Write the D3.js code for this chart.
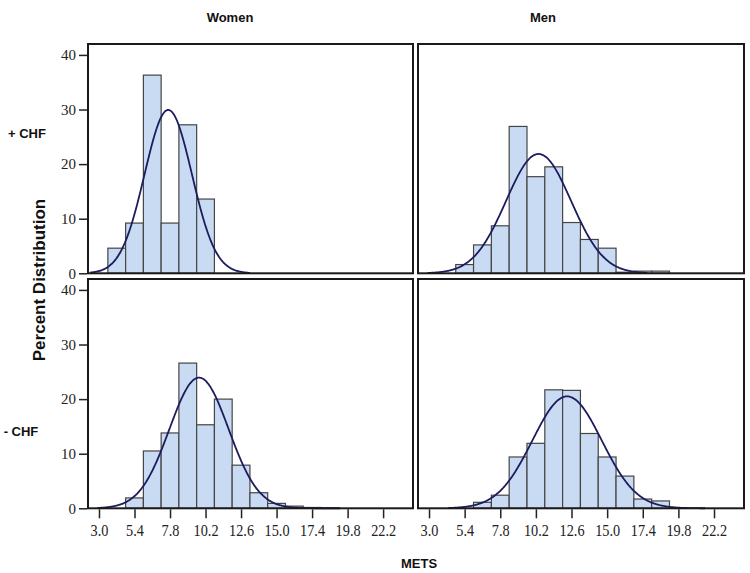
<!DOCTYPE html>
<html>
<head>
<meta charset="utf-8">
<script src="https://cdn.jsdelivr.net/npm/d3@7"></script>
<style>
  html, body { margin: 0; padding: 0; background: #fff; }
  svg { display: block; }
</style>
</head>
<body>
<svg id="chart" width="750" height="573"></svg>
<script>
// ---------- DATA ----------
const binStarts = [3.6, 4.8, 6.0, 7.2, 8.4, 9.6, 10.8, 12.0, 13.2, 14.4, 15.6, 16.8, 18.0];
const binWidth = 1.2;
const womenCHF   = [4.6, 9.2, 36.3, 9.2, 27.2, 13.6, 0, 0, 0, 0, 0, 0, 0];
const menCHF     = [0, 1.6, 5.2, 8.7, 26.9, 17.7, 19.5, 9.3, 6.2, 4.6, 0.2, 0.4, 0.4];
const womenNoCHF = [0, 1.9, 10.5, 13.8, 26.6, 15.3, 20.0, 7.9, 2.85, 0.9, 0.4, 0.15, 0.1];
const menNoCHF   = [0, 0, 1.1, 2.4, 9.4, 11.9, 21.7, 21.6, 13.7, 9.4, 5.9, 1.7, 1.35];
// fitted normal curves: [mean, sd, drawn from, drawn to]
const fitWomenCHF   = [7.68, 1.60, 2.4, 13.2];
const fitMenCHF     = [10.38, 2.19, 2.9, 17.7];
const fitWomenNoCHF = [9.76, 2.00, 2.9, 19.3];
const fitMenNoCHF   = [12.3, 2.335, 4.3, 21.6];
const xTicks = [3.0, 5.4, 7.8, 10.2, 12.6, 15.0, 17.4, 19.8, 22.2];
const yTicks = [0, 10, 20, 30, 40];
const colLabels = ["Women", "Men"];
const rowLabels = ["+ CHF", "- CHF"];
const xTitle = "METS";
const yTitle = "Percent Distribution";

// ---------- LAYOUT ----------
const svg = d3.select("#chart");
const cols = [{x0: 88, x1: 413, lx: 230}, {x0: 418, x1: 744, lx: 543}];
const rows = [{y0: 44, y1: 273.3, ly: 133}, {y0: 279, y1: 508.3, ly: 431}];
const panels = [
  {r: 0, c: 0, vals: womenCHF, fit: fitWomenCHF},
  {r: 0, c: 1, vals: menCHF, fit: fitMenCHF},
  {r: 1, c: 0, vals: womenNoCHF, fit: fitWomenNoCHF},
  {r: 1, c: 1, vals: menNoCHF, fit: fitMenNoCHF}
];
const xDomain = [2.257, 24.22];
const yDomain = [0, 42];

const barFill = "#c9dbf3", barStroke = "#454545", curveColor = "#1c1c5e";

panels.forEach(p => {
  const col = cols[p.c], row = rows[p.r];
  const x = d3.scaleLinear().domain(xDomain).range([col.x0, col.x1]);
  const y = d3.scaleLinear().domain(yDomain).range([row.y1, row.y0]);
  const g = svg.append("g");

  const bins = binStarts.map((s, i) => ({s, v: p.vals[i]})).filter(d => d.v > 0);
  g.selectAll("rect.bar").data(bins).enter().append("rect")
    .attr("class", "bar")
    .attr("x", d => x(d.s))
    .attr("width", d => x(d.s + binWidth) - x(d.s))
    .attr("y", d => y(d.v))
    .attr("height", d => y(0) - y(d.v))
    .attr("fill", barFill)
    .attr("stroke", barStroke)
    .attr("stroke-width", 1.2);

  const [mu, sd, a, b] = p.fit;
  const pts = d3.range(a, b + 0.001, 0.05).map(t => [t,
    100 * binWidth * Math.exp(-0.5 * ((t - mu) / sd) ** 2) / (sd * Math.sqrt(2 * Math.PI))]);
  g.append("path")
    .attr("d", d3.line().x(d => x(d[0])).y(d => y(d[1])).curve(d3.curveBasis)(pts))
    .attr("fill", "none")
    .attr("stroke", curveColor)
    .attr("stroke-width", 1.8);

  // frame
  g.append("rect")
    .attr("x", col.x0).attr("y", row.y0)
    .attr("width", col.x1 - col.x0).attr("height", row.y1 - row.y0)
    .attr("fill", "none").attr("stroke", "#1a1a1a").attr("stroke-width", 2);

  if (p.c === 0) {
    const ya = g.append("g").attr("transform", `translate(${col.x0 - 1},0)`)
      .call(d3.axisLeft(y).tickValues(yTicks).tickSize(8).tickPadding(3).tickFormat(d3.format("d")));
    ya.select(".domain").remove();
    ya.selectAll("line").attr("stroke", "#222").attr("stroke-width", 1.5);
    ya.selectAll("text").attr("font-family", "'Liberation Serif', 'Times New Roman', serif")
      .attr("font-size", 15).attr("fill", "#222");
  }
  if (p.r === 1) {
    const xa = g.append("g").attr("transform", `translate(0,${row.y1 + 1})`)
      .call(d3.axisBottom(x).tickValues(xTicks).tickSize(9).tickPadding(6).tickFormat(d3.format(".1f")));
    xa.select(".domain").remove();
    xa.selectAll("line").attr("stroke", "#222").attr("stroke-width", 1.5);
    xa.selectAll("text").attr("font-family", "'Liberation Serif', 'Times New Roman', serif")
      .attr("font-size", 17).attr("fill", "#222")
      .attr("transform", "scale(0.84,1)");
  }
});

const labelFont = "'Liberation Sans', Arial, sans-serif";
cols.forEach((c, i) => {
  svg.append("text").attr("x", c.lx).attr("y", 17)
    .attr("text-anchor", "middle").attr("dominant-baseline", "central")
    .attr("font-family", labelFont).attr("font-weight", "bold").attr("font-size", 13)
    .attr("fill", "#111").text(colLabels[i]);
});
rows.forEach((r, i) => {
  svg.append("text").attr("x", i === 0 ? 27 : 21).attr("y", r.ly)
    .attr("text-anchor", "middle").attr("dominant-baseline", "central")
    .attr("font-family", labelFont).attr("font-weight", "bold").attr("font-size", 13)
    .attr("fill", "#111").text(rowLabels[i]);
});
svg.append("text").attr("transform", "translate(39,280) rotate(-90)")
  .attr("text-anchor", "middle").attr("dominant-baseline", "central")
  .attr("font-family", labelFont).attr("font-weight", "bold").attr("font-size", 17)
  .attr("fill", "#111").text(yTitle);
svg.append("text").attr("x", 419).attr("y", 563)
  .attr("text-anchor", "middle").attr("dominant-baseline", "central")
  .attr("font-family", labelFont).attr("font-weight", "bold").attr("font-size", 13)
  .attr("fill", "#111").text(xTitle);
</script>
</body>
</html>
